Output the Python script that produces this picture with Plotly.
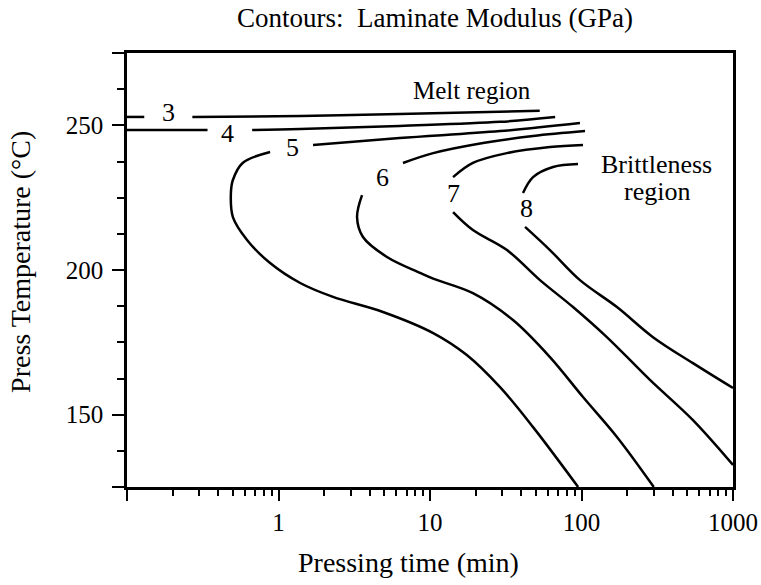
import math
import plotly.graph_objects as go

# ---- data (pressing time in min, press temperature in °C) ----
# None marks the gap where a contour label sits
time_3 = [0.1, 0.13, None, 0.27, 1.4, 6.3, 53]
temp_3 = [252.9, 252.9, None, 252.9, 253.2, 253.9, 255.0]

time_4 = [0.1, 0.34, None, 0.67, 1.39, 6.3, 29, 67]
temp_4 = [248.4, 248.4, None, 248.4, 248.7, 249.8, 251.2, 252.9]

time_5 = [95, 47.9, 29.0, 17.5, 10.5, 4.89, 2.29, 1.39, 0.88, 0.62, 0.50, 0.485, 0.50, 0.58, 0.88,
          None, 1.69, 6.3, 29.0, 97.7]
temp_5 = [125, 145.7, 159.5, 170.6, 178.2, 185.5, 190.7, 195.5, 202.4, 210.4, 218.3, 226.6, 231.1, 237.0, 240.8,
          None, 243.2, 245.6, 248.0, 250.8]

time_6 = [300, 171.4, 102.3, 61.9, 35.3, 19.2, 10.5, 8.59, 5.20, 3.61, 3.30, 3.56,
          None, 6.63, 10.5, 22.4, 47.9, 105.5]
temp_6 = [125, 142.3, 156.1, 169.9, 182.7, 192.0, 197.0, 199.0, 204.5, 211.4, 218.3, 225.9,
          None, 237.0, 240.4, 243.9, 246.3, 248.0]

time_7 = [1000, 544, 283, 147, 87.9, 53.2, 32.2, 19.2, 14.2,
          None, 14.2, 19.2, 32.2, 61.9, 102.3]
temp_7 = [132.6, 148.1, 162.0, 176.8, 187.2, 196.5, 206.9, 213.8, 220.0,
          None, 232.1, 237.0, 240.4, 242.5, 243.2]

time_8 = [1000, 544, 296.5, 171.4, 97.7, 61.9, 42.4,
          None, 41.1, 47.9, 64.9, 94.8]
temp_8 = [159.2, 167.8, 176.8, 187.2, 196.5, 206.9, 214.9,
          None, 226.6, 232.1, 235.6, 236.6]

contour_levels = ["3", "4", "5", "6", "7", "8"]
label_time = [0.187, 0.464, 1.23, 4.89, 14.2, 43.6]
label_temp = [254.3, 247.3, 242.2, 231.8, 226.6, 221.4]

region_labels = ["Melt region", "Brittleness", "region"]
region_time = [18.9, 315, 315]
region_temp = [261.9, 236.3, 227.3]
region_size = [25, 26, 26]

x_major = [0.1, 1, 10, 100, 1000]
x_major_text = ["", "1", "10", "100", "1000"]
x_minor = [k * 10 ** d for d in range(-1, 3) for k in range(2, 10)]

y_major = [125, 150, 200, 250, 275]
y_major_text = ["", "150", "200", "250", ""]
y_minor = [137.5, 162.5, 175, 187.5, 212.5, 225, 237.5, 262.5]

FONT = "Liberation Serif"

fig = go.Figure()
curves = [(time_3, temp_3), (time_4, temp_4), (time_5, temp_5),
          (time_6, temp_6), (time_7, temp_7), (time_8, temp_8)]
for tx, ty in curves:
    fig.add_trace(go.Scatter(
        x=tx, y=ty, mode="lines", connectgaps=False,
        line=dict(color="black", width=2.5, shape="spline", smoothing=1.0),
        hoverinfo="skip", showlegend=False))

annotations = []
for lab, lx, ly in zip(contour_levels, label_time, label_temp):
    annotations.append(dict(x=math.log10(lx), y=ly, xref="x", yref="y", text=lab, showarrow=False,
                            font=dict(family=FONT, size=26, color="black"),
                            xanchor="center", yanchor="middle"))

for txt, rx, ry, rs in zip(region_labels, region_time, region_temp, region_size):
    annotations.append(dict(x=math.log10(rx), y=ry, xref="x", yref="y", text=txt, showarrow=False,
                            font=dict(family=FONT, size=rs, color="black"),
                            xanchor="center", yanchor="middle"))

annotations.append(dict(x=0.508, y=1.081, xref="paper", yref="paper",
                        text="Contours:  Laminate Modulus (GPa)", showarrow=False,
                        font=dict(family=FONT, size=27, color="black"),
                        xanchor="center", yanchor="middle"))
annotations.append(dict(x=0.465, y=-0.173, xref="paper", yref="paper",
                        text="Pressing time (min)", showarrow=False,
                        font=dict(family=FONT, size=28, color="black"),
                        xanchor="center", yanchor="middle"))
annotations.append(dict(x=-0.177, y=0.518, xref="paper", yref="paper",
                        text="Press Temperature (°C)", showarrow=False, textangle=-90,
                        font=dict(family=FONT, size=28, color="black"),
                        xanchor="center", yanchor="middle"))

fig.update_layout(
    template="none",
    width=761, height=585, autosize=False,
    margin=dict(l=127, r=28, t=53, b=98, pad=0),
    paper_bgcolor="white", plot_bgcolor="white",
    annotations=annotations,
    xaxis=dict(type="log", range=[-1, 3], tickmode="array", automargin=False,
               tickvals=x_major, ticktext=x_major_text,
               ticks="outside", ticklen=11, tickwidth=2, tickcolor="black",
               minor=dict(tickvals=x_minor, ticks="outside", ticklen=6, tickwidth=2, tickcolor="black",
                          showgrid=False),
               showline=True, linewidth=2.5, linecolor="black", mirror=True,
               showgrid=False, zeroline=False,
               tickfont=dict(family=FONT, size=25, color="black")),
    yaxis=dict(range=[125, 275], tickmode="array", automargin=False,
               tickvals=y_major, ticktext=y_major_text,
               ticks="outside", ticklen=12, tickwidth=2, tickcolor="black",
               minor=dict(tickvals=y_minor, ticks="outside", ticklen=7, tickwidth=2, tickcolor="black",
                          showgrid=False),
               showline=True, linewidth=2.5, linecolor="black", mirror=True,
               showgrid=False, zeroline=False, ticklabelstandoff=4,
               tickfont=dict(family=FONT, size=25, color="black")),
)

fig.write_html("out.html")
